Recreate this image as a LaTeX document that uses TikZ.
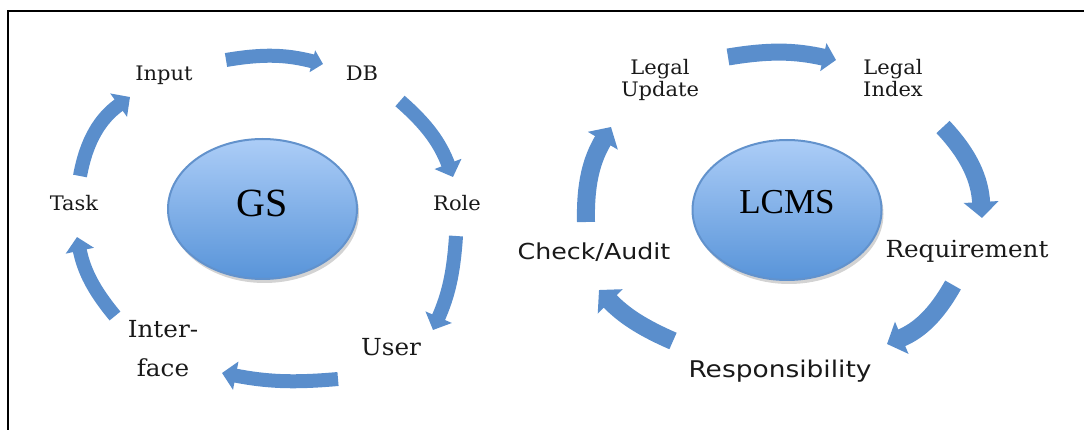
\documentclass[tikz,border=0pt]{standalone}
\usepackage{fontspec}
\usetikzlibrary{arrows.meta,shadows,shapes.geometric}
\newfontfamily\labf[FakeStretch=1.05]{DejaVu Serif}
\newfontfamily\labsf[FakeStretch=1.15]{DejaVu Sans}
\newfontfamily\timesf{Liberation Serif}
\definecolor{arrowblue}{RGB}{90,142,204}
\definecolor{hubtop}{RGB}{172,205,247}
\definecolor{hubbot}{RGB}{88,148,217}
\definecolor{hubline}{RGB}{98,146,204}
\definecolor{txt}{RGB}{25,25,25}
\begin{document}
\begin{tikzpicture}[x=1pt,y=-1pt,
  lbl/.style={font=\labf\fontsize{20}{22}\selectfont, text=txt, anchor=base, inner sep=0pt, align=center},
  lblbig/.style={lbl, font=\labf\fontsize{23.5}{39}\selectfont},
  lblsans/.style={lbl, font=\labsf\fontsize{22}{26}\selectfont},
  hub/.style={ellipse, draw=hubline, line width=2pt, top color=hubtop, bottom color=hubbot,
    minimum width=189pt, minimum height=140pt, inner sep=0pt, text=black,
    drop shadow={opacity=0.35, shadow xshift=2pt, shadow yshift=-4pt}},
  garrow/.style={line width=14pt, draw=arrowblue, -{Triangle[width=28pt,length=14pt]}},
  gtop/.style={line width=14pt, draw=arrowblue, -{Triangle[width=22pt,length=11pt]}},
  larrow/.style={line width=18pt, draw=arrowblue, -{Triangle[width=34pt,length=16pt]}},
  ltop/.style={line width=17pt, draw=arrowblue, -{Triangle[width=28pt,length=13pt]}}
]
\useasboundingbox (0,0) rectangle (1084,430);
% frame
\draw[line width=2pt] (8,430) -- (8,11) -- (1084,11);

% ---------- GS cycle ----------
\node[hub] (gs) at (262.5,209) {\raisebox{11pt}{\timesf\fontsize{40}{44}\selectfont GS}};
\node[lbl] (input) at (164,81) {Input};
\node[lbl] (db) at (362,81) {DB};
\node[lbl] (role) at (457,211) {Role};
\node[lblbig] (user) at (391,355) {User};
\node[lblbig] (iface) at (163,376) {Inter-\\face};
\node[lbl] (task) at (74,211) {Task};

\coordinate (g1s) at (226,60);  \coordinate (g1e) at (323,64);
\coordinate (g2s) at (400,101); \coordinate (g2e) at (453,177);
\coordinate (g3s) at (456,236); \coordinate (g3e) at (433,330);
\coordinate (g4s) at (338,379); \coordinate (g4e) at (222,373);
\coordinate (g5s) at (115,316); \coordinate (g5e) at (77,237);
\coordinate (g6s) at (80,176);  \coordinate (g6e) at (130,97);
\draw[gtop] (g1s) to[bend left=12] (g1e);
\draw[garrow] (g2s) to[bend left=14] (g2e);
\draw[garrow] (g3s) to[bend left=10] (g3e);
\draw[garrow] (g4s) to[bend left=8] (g4e);
\draw[garrow] (g5s) to[bend left=14] (g5e);
\draw[garrow] (g6s) to[bend left=22] (g6e);

% ---------- LCMS cycle ----------
\node[hub] (lcms) at (787,210) {\raisebox{17pt}{\timesf\fontsize{35}{40}\selectfont LCMS}};
\node[lbl] (lupd) at (660,97) {Legal\\Update};
\node[lbl] (lidx) at (893,97) {Legal\\Index};
\node[lbl, font=\labf\fontsize{23.5}{26}\selectfont] (req) at (967,258) {Requirement};
\node[lblsans, font=\labsf\fontsize{23}{26}\selectfont] (resp) at (780,377) {Responsibility};
\node[lblsans] (chk) at (594,260) {Check/Audit};

\coordinate (l1s) at (728,57);  \coordinate (l1e) at (836,60);
\coordinate (l2s) at (943,127); \coordinate (l2e) at (982,218);
\coordinate (l3s) at (953,285); \coordinate (l3e) at (887,344);
\coordinate (l4s) at (673,341); \coordinate (l4e) at (599,290);
\coordinate (l5s) at (586,222); \coordinate (l5e) at (611,127);
\draw[ltop] (l1s) to[bend left=11] (l1e);
\draw[larrow] (l2s) to[bend left=20] (l2e);
\draw[larrow] (l3s) to[bend left=19] (l3e);
\draw[larrow] (l4s) to[bend left=11] (l4e);
\draw[larrow] (l5s) to[bend left=16] (l5e);
\end{tikzpicture}
\end{document}
